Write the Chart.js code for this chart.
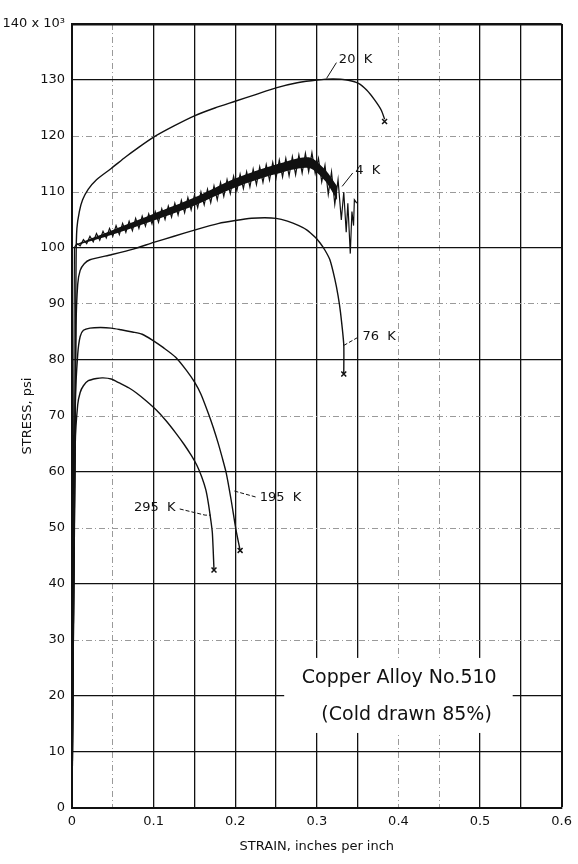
<!DOCTYPE html>
<html>
<head>
<meta charset="utf-8">
<title>Copper Alloy No. 510 - stress vs strain</title>
<script src="https://cdn.jsdelivr.net/npm/chart.js@4.4.1/dist/chart.umd.min.js"></script>
<style>
  html, body { margin: 0; padding: 0; background: #fff; }
  #chart { display: block; }
</style>
</head>
<body>
<canvas id="chart" width="578" height="864"></canvas>
<script>
/* ---------- data (strain in in/in, stress in 10^3 psi) ---------- */

// 20 K
const k20Strain = [0, 0.005, 0.006, 0.009, 0.013, 0.02, 0.03, 0.048, 0.066, 0.08, 0.1, 0.125, 0.15, 0.175, 0.2, 0.225, 0.25, 0.276, 0.3, 0.32, 0.337, 0.351, 0.361, 0.371, 0.379, 0.383];
const k20Stress = [0, 98, 103.5, 106.5, 108.6, 110.5, 112.2, 114.2, 116.3, 117.8, 119.8, 121.8, 123.6, 125, 126.2, 127.4, 128.6, 129.5, 130, 130.2, 130, 129.4, 128.2, 126.4, 124.6, 123];

// 4 K (serrated flow)
const k4Strain = [0, 0.003,
  0.006, 0.010, 0.014, 0.018, 0.022, 0.026, 0.030, 0.034, 0.038, 0.042, 0.046, 0.050,
  0.054, 0.058, 0.062, 0.066, 0.070, 0.074, 0.078, 0.082, 0.086, 0.090, 0.094, 0.098,
  0.102, 0.106, 0.110, 0.114, 0.118, 0.122, 0.126, 0.130, 0.134, 0.138, 0.142, 0.146,
  0.150, 0.154, 0.158, 0.162, 0.166, 0.170, 0.174, 0.178, 0.182, 0.186, 0.190, 0.194,
  0.198, 0.202, 0.206, 0.210, 0.214, 0.218, 0.222, 0.226, 0.230, 0.234, 0.238, 0.242,
  0.246, 0.250, 0.254, 0.258, 0.262, 0.266, 0.270, 0.274, 0.278, 0.282, 0.286, 0.290,
  0.294, 0.298, 0.302, 0.306, 0.310, 0.314, 0.318, 0.322, 0.326, 0.330,
  0.333, 0.336, 0.338, 0.341, 0.343, 0.345, 0.346, 0.349];
const k4Stress = [0, 100.1,
  100.8, 100.4, 101.5, 100.8, 102.1, 101.1, 102.6, 101.4, 103.0, 101.8, 103.5, 102.1,
  104.0, 102.4, 104.4, 102.8, 104.8, 103.1, 105.3, 103.5, 105.7, 103.9, 106.1, 104.3,
  106.5, 104.6, 107.0, 105.1, 107.5, 105.5, 108.0, 105.9, 108.5, 106.3, 109.0, 106.8,
  109.4, 107.2, 110.0, 107.7, 110.5, 108.1, 111.1, 108.6, 111.7, 109.2, 112.2, 109.7,
  112.8, 110.2, 113.2, 110.6, 113.6, 110.9, 114.1, 111.3, 114.5, 111.7, 114.9, 112.1,
  115.3, 112.5, 115.7, 112.7, 116.0, 112.9, 116.3, 113.1, 116.6, 113.4, 116.9, 113.6,
  117.0, 113.3, 116.0, 111.8, 114.8, 109.6, 113.6, 107.8, 112.2, 105.0,
  110.0, 102.8, 108.0, 99.0, 106.5, 104.0, 108.6, 108.0];
// dark core of the serrated band
const k4BandStrain = [0.006, 0.05, 0.1, 0.15, 0.2, 0.25, 0.29, 0.31, 0.325];
const k4BandTop = [100.7, 103.2, 106.1, 109.0, 112.4, 114.9, 116.2, 114.0, 111.0];
const k4BandBottom = [100.5, 102.4, 104.9, 107.6, 110.8, 113.2, 114.3, 112.0, 108.5];

// 76 K
const k76Strain = [0, 0.005, 0.007, 0.01, 0.015, 0.022, 0.048, 0.075, 0.1, 0.125, 0.15, 0.18, 0.2, 0.22, 0.236, 0.25, 0.264, 0.278, 0.288, 0.298, 0.304, 0.31, 0.316, 0.322, 0.326, 0.329, 0.333, 0.333];
const k76Stress = [0, 86, 93.5, 96, 97.2, 97.9, 98.8, 99.8, 101, 102.1, 103.2, 104.4, 104.9, 105.3, 105.4, 105.3, 104.8, 104, 103.2, 101.9, 100.9, 99.6, 97.9, 94.5, 91.5, 88.5, 82.7, 77.5];

// 195 K
const k195Strain = [0, 0.004, 0.007, 0.01, 0.014, 0.022, 0.035, 0.048, 0.06, 0.074, 0.086, 0.098, 0.112, 0.127, 0.14, 0.15, 0.158, 0.167, 0.173, 0.179, 0.184, 0.189, 0.195, 0.201, 0.206];
const k195Stress = [0, 72, 81, 84.2, 85.3, 85.7, 85.8, 85.7, 85.4, 85, 84.6, 83.6, 82.2, 80.5, 78.2, 76.1, 73.9, 70.5, 68, 65.2, 62.6, 59.8, 55, 49.6, 46];

// 295 K
const k295Strain = [0, 0.004, 0.007, 0.01, 0.014, 0.02, 0.03, 0.038, 0.048, 0.058, 0.07, 0.079, 0.09, 0.103, 0.115, 0.127, 0.137, 0.146, 0.153, 0.159, 0.164, 0.167, 0.17, 0.172, 0.174];
const k295Stress = [0, 65, 72, 74.2, 75.4, 76.3, 76.7, 76.8, 76.6, 75.9, 75, 74.1, 72.8, 71.1, 69.2, 67, 65, 63, 61.2, 59.1, 56.8, 54.5, 51.5, 49.1, 42.5];

// fracture marks (x)
const breakStrain = [0.383, 0.333, 0.206, 0.174];
const breakStress = [122.6, 77.5, 46, 42.5];

// axes
const xTickValues = [0, 0.05, 0.1, 0.15, 0.2, 0.25, 0.3, 0.35, 0.4, 0.45, 0.5, 0.55, 0.6];
const xTickLabels = ['0', '0.1', '0.2', '0.3', '0.4', '0.5', '0.6'];
const yTickValues = [0, 10, 20, 30, 40, 50, 60, 70, 80, 90, 100, 110, 120, 130, 140];
const yTickLabels = ['0', '10', '20', '30', '40', '50', '60', '70', '80', '90', '100', '110', '120', '130', '140 x 10\u00B3'];

/* ---------- styling ---------- */
const ink = '#111';
const faint = '#9a9a9a';
const font = "'DejaVu Sans', sans-serif";
// grid lines drawn solid (true) or dash-dot (false), by tick index
const xGridSolid = [true, false, true, true, true, true, true, true, false, false, true, true, true];
const yGridSolid = [true, true, true, false, true, false, true, false, true, false, true, false, false, true, true];

const pts = (xs, ys) => xs.map((x, i) => ({ x, y: ys[i] }));
const curve = (xs, ys, width, tension) => ({
    data: pts(xs, ys), borderColor: ink, borderWidth: width,
    pointRadius: 0, tension, fill: false
});

// curve labels with leader lines, and the title box (data coordinates)
const curveNotes = [
    { text: '20  K', at: [0.327, 133.6], lead: [[0.312, 130.3], [0.324, 133.1]], dashed: false },
    { text: '4  K', at: [0.347, 113.9], lead: [[0.331, 111.0], [0.344, 113.4]], dashed: false },
    { text: '76  K', at: [0.356, 84.1], lead: [[0.333, 82.6], [0.351, 84.1]], dashed: true },
    { text: '195  K', at: [0.230, 55.5], lead: [[0.199, 56.6], [0.226, 55.5]], dashed: true },
    { text: '295  K', at: [0.076, 53.6], lead: [[0.132, 53.4], [0.163, 52.3], [0.170, 52.3]], dashed: true }
];
const boxNote = {
    lines: ['Copper Alloy No.510', '(Cold drawn 85%)'],
    centers: [[0.401, 23.2], [0.410, 16.6]],
    corners: [0.26, 26.8, 0.54, 13.4]
};

const notes = {
    id: 'notes',
    afterDatasetsDraw(chart) {
        const { ctx, scales: { x, y } } = chart;
        const px = v => x.getPixelForValue(v);
        const py = v => y.getPixelForValue(v);
        ctx.save();

        // curve labels
        ctx.strokeStyle = ink;
        ctx.fillStyle = ink;
        ctx.lineWidth = 1;
        ctx.font = `13px ${font}`;
        ctx.textAlign = 'left';
        ctx.textBaseline = 'middle';
        curveNotes.forEach(n => {
            ctx.setLineDash(n.dashed ? [4, 2] : []);
            ctx.beginPath();
            n.lead.forEach((p, i) => i === 0 ? ctx.moveTo(px(p[0]), py(p[1])) : ctx.lineTo(px(p[0]), py(p[1])));
            ctx.stroke();
            ctx.fillText(n.text, px(n.at[0]), py(n.at[1]));
        });
        ctx.setLineDash([]);

        // title box
        const [x0, y0, x1, y1] = boxNote.corners;
        ctx.fillStyle = '#fff';
        ctx.fillRect(px(x0), py(y0), px(x1) - px(x0), py(y1) - py(y0));
        ctx.fillStyle = ink;
        ctx.font = `19px ${font}`;
        ctx.textAlign = 'center';
        boxNote.lines.forEach((t, i) => ctx.fillText(t, px(boxNote.centers[i][0]), py(boxNote.centers[i][1])));
        ctx.restore();
    }
};

new Chart(document.getElementById('chart'), {
    type: 'line',
    data: {
        datasets: [
            { data: pts(k4BandStrain, k4BandTop), borderWidth: 0, pointRadius: 0, tension: 0.3, fill: '+1', backgroundColor: ink },
            { data: pts(k4BandStrain, k4BandBottom), borderWidth: 0, pointRadius: 0, tension: 0.3, fill: false },
            curve(k20Strain, k20Stress, 1.4, 0.25),
            curve(k4Strain, k4Stress, 1.2, 0),
            curve(k76Strain, k76Stress, 1.4, 0.2),
            curve(k195Strain, k195Stress, 1.4, 0.25),
            curve(k295Strain, k295Stress, 1.4, 0.25),
            {
                data: pts(breakStrain, breakStress), showLine: false, fill: false,
                pointStyle: 'crossRot', pointRadius: 3.5, borderColor: ink, borderWidth: 1.5
            }
        ]
    },
    options: {
        responsive: false,
        animation: false,
        layout: { padding: { top: 24, right: 11, left: 0, bottom: 0 } },
        plugins: { legend: { display: false }, tooltip: { enabled: false } },
        scales: {
            x: {
                type: 'linear', min: 0, max: 0.6,
                afterBuildTicks: s => { s.ticks = xTickValues.map(v => ({ value: v })); },
                afterFit: s => { s.height = 56; },
                ticks: {
                    autoSkip: false, maxRotation: 0, padding: 6, color: ink,
                    font: { family: font, size: 13 },
                    callback: (v, i) => i % 2 === 0 ? xTickLabels[i / 2] : ''
                },
                grid: {
                    drawTicks: false,
                    color: c => xGridSolid[c.index] ? ink : faint,
                    lineWidth: c => xGridSolid[c.index] ? (c.index === 12 ? 2 : 1.3) : 1
                },
                border: {
                    display: true, color: ink, width: 2,
                    dash: c => c.type === 'tick' && !xGridSolid[c.index] ? [6, 3, 1, 3] : []
                },
                title: {
                    display: true, text: 'STRAIN, inches per inch', color: ink,
                    font: { family: font, size: 13 }, padding: { top: 0, bottom: 10 }
                }
            },
            y: {
                type: 'linear', min: 0, max: 140,
                afterBuildTicks: s => { s.ticks = yTickValues.map(v => ({ value: v })); },
                afterFit: s => { s.width = 72; },
                ticks: {
                    autoSkip: false, padding: 7, color: ink,
                    font: { family: font, size: 13 },
                    callback: (v, i) => yTickLabels[i]
                },
                grid: {
                    drawTicks: false,
                    color: c => yGridSolid[c.index] ? ink : faint,
                    lineWidth: c => yGridSolid[c.index] ? (c.index === 14 ? 2.5 : 1.3) : 1
                },
                border: {
                    display: true, color: ink, width: 2,
                    dash: c => c.type === 'tick' && !yGridSolid[c.index] ? [6, 3, 1, 3] : []
                },
                title: {
                    display: true, text: 'STRESS, psi', color: ink,
                    font: { family: font, size: 13 }, padding: { top: 20, bottom: 0 }
                }
            }
        }
    },
    plugins: [notes]
});
</script>
</body>
</html>
